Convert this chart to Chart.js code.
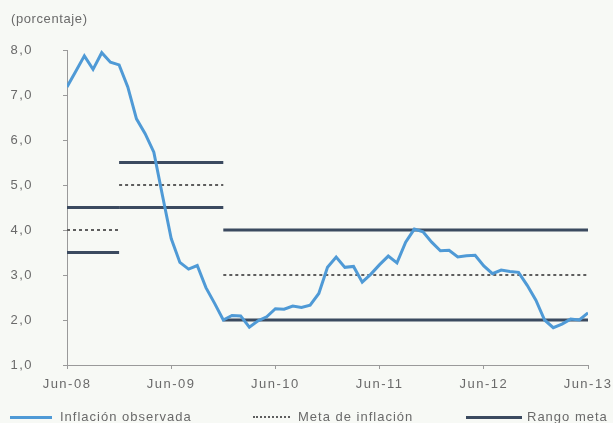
<!DOCTYPE html>
<html>
<head>
<meta charset="utf-8">
<script src="https://cdn.jsdelivr.net/npm/chart.js@4/dist/chart.umd.min.js"></script>
<style>
  body { margin: 0; background: #f7f9f5; }
  #marco { position: relative; width: 613px; height: 423px; overflow: hidden; }
  #grafico { position: absolute; left: 0; top: 0; }
  .texto { position: absolute; font-family: "Liberation Sans", Arial, sans-serif; font-size: 13px; color: #6a6a6a; letter-spacing: 1px; white-space: nowrap; }
  .linea { position: absolute; height: 0; }
</style>
</head>
<body>
<div id="marco">
  <canvas id="grafico" width="613" height="423"></canvas>
  <div class="texto" style="left:11px; top:11px; letter-spacing:0.6px;">(porcentaje)</div>
  <!-- leyenda -->
  <div class="linea" style="left:10px; width:42px; top:416px; border-top:3px solid #4f9ad6;"></div>
  <div class="texto" style="left:60px; top:409px;">Inflación observada</div>
  <div class="linea" style="left:253px; width:37px; top:416px; border-top:2px dotted #5e5e5e;"></div>
  <div class="texto" style="left:298px; top:409px;">Meta de inflación</div>
  <div class="linea" style="left:466px; width:56px; top:416px; border-top:3px solid #3b4a5f;"></div>
  <div class="texto" style="left:527px; top:409px;">Rango meta</div>
</div>
<script>
// etiquetas del eje x (cada 12 meses desde Jun-08)
const etiquetasX = ['Jun-08', 'Jun-09', 'Jun-10', 'Jun-11', 'Jun-12', 'Jun-13'];

// inflación anual observada, mensual jun-08 a jun-13
const inflacion = [
    7.18, 7.52, 7.87, 7.57, 7.94, 7.73, 7.67,                   // 2008
    7.18, 6.47, 6.14, 5.73, 4.76, 3.81, 3.28, 3.13, 3.21, 2.72, 2.37, 2.00, // 2009
    2.10, 2.09, 1.84, 1.98, 2.07, 2.25, 2.24, 2.31, 2.28, 2.33, 2.59, 3.17, // 2010
    3.40, 3.17, 3.19, 2.84, 3.02, 3.23, 3.42, 3.27, 3.73, 4.02, 3.96, 3.73, // 2011
    3.54, 3.55, 3.40, 3.43, 3.44, 3.20, 3.03, 3.11, 3.08, 3.06, 2.77, 2.44, // 2012
    2.00, 1.83, 1.91, 2.02, 2.00, 2.16                          // 2013
];

// periodos de meta (índice de mes inicial y final)
const periodos = [[0, 6], [6, 18], [18, 60]];
const metaCentral = [4.0, 5.0, 3.0];
const rangoMin = [3.5, 4.5, 2.0];
const rangoMax = [4.5, 5.5, 4.0];

const AZUL = '#4f9ad6';
const OSCURO = '#3b4a5f';
const PUNTEADO = '#5e5e5e';
const GRIS = '#6a6a6a';

function segmento(valores, color, punteado) {
    return valores.map((v, i) => ({
        data: [{ x: periodos[i][0], y: v }, { x: periodos[i][1], y: v }],
        borderColor: color,
        borderWidth: punteado ? 2 : 3,
        borderDash: punteado ? [3, 3] : [],
        pointRadius: 0,
        order: 2
    }));
}

const datasets = [
    ...segmento(rangoMin, OSCURO, false),
    ...segmento(rangoMax, OSCURO, false),
    ...segmento(metaCentral, PUNTEADO, true),
    {
        data: inflacion.map((v, i) => ({ x: i, y: v })),
        borderColor: AZUL,
        borderWidth: 3,
        pointRadius: 0,
        tension: 0,
        order: 1
    }
];

// espaciado de letras en el canvas (el texto de referencia es más ancho)
const espaciado = {
    id: 'espaciado',
    beforeLayout(c) { c.ctx.letterSpacing = '1.5px'; },
    beforeDraw(c) { c.ctx.letterSpacing = '1.5px'; }
};

new Chart(document.getElementById('grafico'), {
    type: 'line',
    data: { datasets: datasets },
    options: {
        responsive: false,
        animation: false,
        layout: { padding: { left: 0, right: 0, top: 50, bottom: 28 } },
        plugins: { legend: { display: false }, tooltip: { enabled: false } },
        scales: {
            x: {
                type: 'linear',
                min: 0,
                max: 60,
                afterBuildTicks: s => { s.ticks = etiquetasX.map((_, i) => ({ value: i * 12 })); },
                afterFit: s => { s.height = 30; s.paddingLeft = 0; s.paddingRight = 25; },
                ticks: {
                    callback: v => etiquetasX[v / 12],
                    color: GRIS,
                    font: { family: 'Liberation Sans', size: 13 },
                    padding: 8,
                    maxRotation: 0
                },
                grid: { drawOnChartArea: false, tickLength: 4, color: '#9a9a9a' },
                border: { color: '#9a9a9a', width: 1 }
            },
            y: {
                min: 1,
                max: 8,
                afterFit: s => { s.width = 67; },
                ticks: {
                    stepSize: 1,
                    callback: v => v.toFixed(1).replace('.', ','),
                    color: GRIS,
                    font: { family: 'Liberation Sans', size: 13 },
                    padding: 30
                },
                grid: { drawOnChartArea: false, tickLength: 4, color: '#9a9a9a' },
                border: { color: '#9a9a9a', width: 1 }
            }
        }
    },
    plugins: [espaciado]
});
</script>
</body>
</html>
